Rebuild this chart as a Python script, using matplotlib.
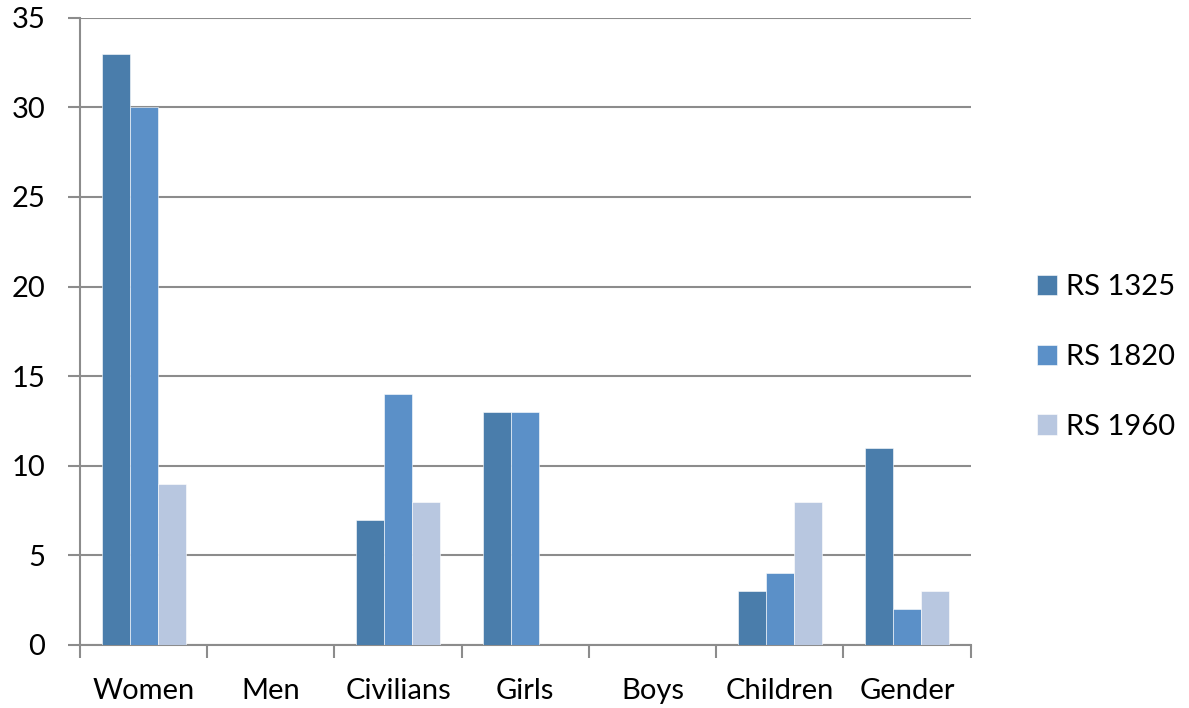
import numpy as np
import matplotlib.pyplot as plt

categories = ['Women', 'Men', 'Civilians', 'Girls', 'Boys', 'Children', 'Gender']
rs1325 = [33, 0, 7, 13, 0, 3, 11]
rs1820 = [30, 0, 14, 13, 0, 4, 2]
rs1960 = [9, 0, 8, 0, 0, 8, 3]
series_names = ['RS 1325', 'RS 1820', 'RS 1960']
colors = ['#4A7DAB', '#5B90C8', '#B8C7E0']

plt.rcParams['font.family'] = ['Lato', 'DejaVu Sans']

fig = plt.figure(figsize=(11.89, 7.08), dpi=100)
ax = fig.add_axes([0.0673, 0.089, 0.749, 0.886])

x = np.arange(len(categories))
w = 0.22
for k, (vals, name, c) in enumerate(zip([rs1325, rs1820, rs1960], series_names, colors)):
    ax.bar(x + (k - 1) * w, vals, w, color=c, label=name, zorder=3,
           edgecolor='white', linewidth=0.4)

ax.set_xlim(-0.5, len(categories) - 0.5)
ax.set_ylim(0, 35)
ax.set_yticks(range(0, 36, 5))
ax.yaxis.grid(True, color='#8c8c8c', linewidth=1.5, zorder=0)
ax.set_axisbelow(True)

ax.set_xticks(x)
ax.set_xticklabels(categories, fontsize=21)
ax.set_xticks(np.arange(-0.5, len(categories), 1), minor=True)
ax.tick_params(axis='x', which='major', length=0, pad=24)
ax.tick_params(axis='x', which='minor', length=9, width=1.5, color='#8c8c8c')
ax.tick_params(axis='y', length=9, width=1.5, color='#8c8c8c', labelsize=21, pad=16)

for s in ['top', 'right']:
    ax.spines[s].set_visible(False)
for s in ['left', 'bottom']:
    ax.spines[s].set_color('#8c8c8c')
    ax.spines[s].set_linewidth(1.5)

ax.legend(loc='center left', bbox_to_anchor=(1.045, 0.459), frameon=False,
          fontsize=21, handlelength=0.69, handleheight=0.69, labelspacing=1.5,
          handletextpad=0.3)

plt.savefig('out.png', dpi=100)
